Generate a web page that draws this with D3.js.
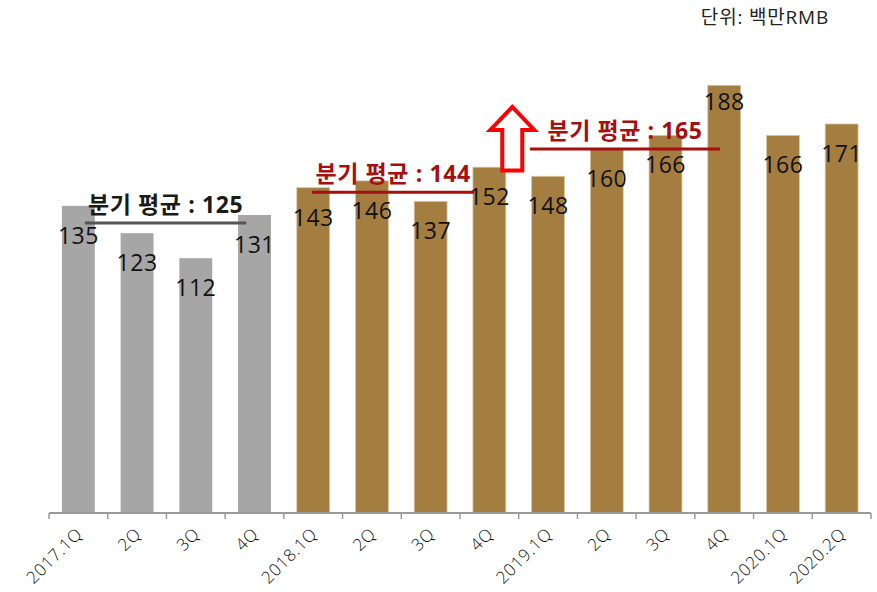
<!DOCTYPE html>
<html>
<head>
<meta charset="utf-8">
<script src="https://cdn.jsdelivr.net/npm/d3@7"></script>
<style>
  body { margin: 0; background: #fff; }
  text { font-family: "Open Sans", "Noto Sans CJK KR", sans-serif; }
</style>
</head>
<body>
<div id="chart"></div>
<script>
// data
var quarters = ["2017.1Q","2Q","3Q","4Q","2018.1Q","2Q","3Q","4Q","2019.1Q","2Q","3Q","4Q","2020.1Q","2020.2Q"];
var revenue = [135,123,112,131,143,146,137,152,148,160,166,188,166,171];
var barGroup = ["old","old","old","old","new","new","new","new","new","new","new","new","new","new"];
var avgLabels = ["분기 평균 : 125", "분기 평균 : 144", "분기 평균 : 165"];
var avgLevels = [127.5, 141, 160];          // where each average line sits (value units)
var avgSpans = [[0.61, 3.36], [4.48, 7.24], [8.19, 11.43]]; // in band units
var avgKind = ["gray", "red", "red"];
var unitText = "단위: 백만RMB";

(function() {
  var W = 877, H = 592;
  var margin = { top: 13, left: 49, right: 6, bottom: 79 };
  var width = W - margin.left - margin.right,
      height = H - margin.top - margin.bottom;

  var svg = d3.select("#chart").append("svg")
    .attr("width", W).attr("height", H)
    .append("g")
    .attr("transform", "translate(" + margin.left + "," + margin.top + ")");

  var x = d3.scaleBand()
    .domain(d3.range(quarters.length))
    .range([0, width])
    .paddingInner(0.44)
    .paddingOuter(0.22);

  // continuous position in band units, for annotations
  var xPos = d3.scaleLinear().domain([0, quarters.length]).range([0, width]);

  var y = d3.scaleLinear()
    .domain([0, 220])
    .range([height, height - 220 * 2.275]);

  var colors = { old: "#A6A6A6", "new": "#A47D40" };

  svg.selectAll(".bar")
    .data(revenue)
    .enter().append("rect")
    .attr("class", "bar")
    .attr("x", function(d, i) { return x(i); })
    .attr("width", x.bandwidth())
    .attr("y", function(d) { return y(d); })
    .attr("height", function(d) { return height - y(d); })
    .attr("fill", function(d, i) { return colors[barGroup[i]]; })
    .attr("stroke", function(d, i) { return barGroup[i] == "new" ? "#D9C7A6" : "none"; })
    .attr("stroke-width", 0.8);

  svg.selectAll(".val")
    .data(revenue)
    .enter().append("text")
    .attr("class", "val")
    .attr("x", function(d, i) { return x(i) + x.bandwidth() / 2; })
    .attr("y", function(d) { return Math.min(y(d) + 30, y(d) + (y(d) - 40) * 0.5); })
    .attr("dy", "0.35em")
    .attr("text-anchor", "middle")
    .attr("font-size", 23)
    .attr("letter-spacing", 0.5)
    .attr("fill", "#111")
    .text(function(d) { return d; });

  // axis
  var axisG = svg.append("g").attr("transform", "translate(0," + height + ")");
  axisG.append("line")
    .attr("x1", 0).attr("x2", width)
    .attr("stroke", "#9a9a9a").attr("stroke-width", 2);
  axisG.selectAll(".tick")
    .data(d3.range(quarters.length + 1))
    .enter().append("line")
    .attr("x1", function(d) { return xPos(d); })
    .attr("x2", function(d) { return xPos(d); })
    .attr("y1", 0).attr("y2", 6)
    .attr("stroke", "#9a9a9a").attr("stroke-width", 1.5);
  axisG.selectAll(".xl")
    .data(quarters)
    .enter().append("text")
    .attr("transform", function(d, i) {
      return "translate(" + (x(i) + x.bandwidth() / 2 + 5) + ",22) rotate(-45)";
    })
    .attr("text-anchor", "end")
    .attr("font-size", 17)
    .attr("font-weight", 300)
    .attr("letter-spacing", 0.7)
    .attr("fill", "#111")
    .text(function(d) { return d; });

  // average annotations
  var avgColor = { gray: "#555", red: "#A50F0F" };
  var textColor = { gray: "#1a1a1a", red: "#A50F0F" };
  avgLabels.forEach(function(lbl, k) {
    var x1 = xPos(avgSpans[k][0]), x2 = xPos(avgSpans[k][1]);
    var ly = y(avgLevels[k]);
    svg.append("line")
      .attr("x1", x1).attr("x2", x2)
      .attr("y1", ly).attr("y2", ly)
      .attr("stroke", avgColor[avgKind[k]])
      .attr("stroke-width", 3);
    svg.append("text")
      .attr("x", (x1 + x2) / 2)
      .attr("y", ly - 10)
      .attr("text-anchor", "middle")
      .attr("font-size", 23)
      .attr("font-weight", "bold")
      .attr("letter-spacing", 0.6)
      .attr("fill", textColor[avgKind[k]])
      .text(lbl);
  });

  // up arrow between 2018 and 2019
  var ax = xPos(7.89), tipY = y(178.5), baseY = y(150.5);
  var headW = 22, shaftW = 10, headH = 23;
  var arrow = [
    [ax, tipY],
    [ax + headW, tipY + headH],
    [ax + shaftW, tipY + headH],
    [ax + shaftW, baseY],
    [ax - shaftW, baseY],
    [ax - shaftW, tipY + headH],
    [ax - headW, tipY + headH]
  ];
  svg.append("path")
    .attr("d", d3.line()(arrow) + "Z")
    .attr("fill", "#fff")
    .attr("stroke", "#FF0000")
    .attr("stroke-width", 4)
    .attr("stroke-linejoin", "miter");

  // unit
  d3.select("svg").append("text")
    .attr("x", 829).attr("y", 24)
    .attr("text-anchor", "end")
    .attr("font-size", 19)
    .attr("letter-spacing", 0.8)
    .attr("fill", "#222")
    .text(unitText);
})();
</script>
</body>
</html>
